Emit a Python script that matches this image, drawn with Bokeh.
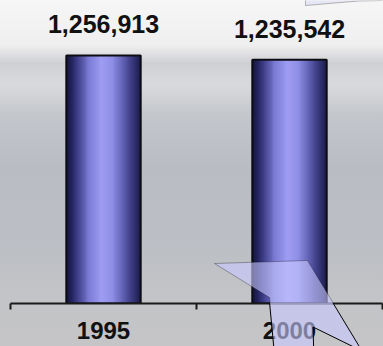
import numpy as np
from urllib.parse import quote
from bokeh.plotting import figure
from bokeh.models import Range1d, FixedTicker, PolyAnnotation, ColumnDataSource, InlineStyleSheet
from bokeh.core.properties import value
from bokeh.embed import file_html
from bokeh.resources import INLINE

# ---- data ----
years = ["1995", "2000"]
counts = [1256913, 1235542]
count_labels = ["{:,}".format(v) for v in counts]

bar_width = 0.40
xs = [i + 0.5 for i in range(len(years))]

p = figure(width=383, height=346, output_backend="svg", toolbar_location=None,
           x_range=Range1d(0, len(years)), y_range=Range1d(0, 1535600),
           min_border_left=10, min_border_right=1, min_border_top=0, min_border_bottom=43,
           y_axis_location=None)
p.border_fill_color = None
p.background_fill_color = None
p.outline_line_color = None
p.grid.visible = False
p.styles = {"background-image": "linear-gradient(to bottom, #f6f6f6 0px, #efefef 45px, #cfd0d3 63px, #d9dadd 85px, #c3c6cb 115px, #b9bdc3 170px, #bcbfc4 250px, #c3c4c7 300px, #c5c5c7 346px)"}

# bar gradient (horizontal)
stops = [(0.0, (22, 22, 64)), (0.12, (52, 52, 124)), (0.30, (124, 124, 214)),
         (0.47, (160, 158, 244)), (0.62, (142, 142, 230)), (0.78, (90, 90, 172)),
         (0.92, (48, 48, 112)), (1.0, (26, 26, 66))]
N = 80
pos = np.linspace(0, 1, N)
sp = [s[0] for s in stops]
rgb = np.zeros((1, N, 4), dtype=np.uint8)
for c in range(3):
    rgb[0, :, c] = np.interp(pos, sp, [s[1][c] for s in stops]).astype(np.uint8)
rgb[0, :, 3] = 255
img = rgb.view(dtype=np.uint32).reshape((1, N))

p.image_rgba(image=[img for _ in years], x=[x - bar_width / 2 for x in xs], y=[0 for _ in years],
             dw=[bar_width for _ in years], dh=counts)
p.vbar(x=xs, top=counts, width=bar_width, fill_color=None, line_color="#0c0c14", line_width=2)

src = ColumnDataSource(dict(x=xs, y=counts, t=count_labels))
p.text(x="x", y="y", text="t", source=src, y_offset=-31, text_align="center",
       text_baseline="alphabetic", text_font=value("Liberation Sans"), text_font_style="bold",
       text_font_size="25px", text_color="#111111")

ax = p.xaxis[0]
ax.ticker = FixedTicker(ticks=xs, minor_ticks=[0, 1, 2])
ax.major_label_overrides = {x: y for x, y in zip(xs, years)}
ax.major_tick_out = 0
ax.major_tick_in = 0
ax.minor_tick_out = 6
ax.minor_tick_in = 0
ax.minor_tick_line_color = "#1a1a1a"
ax.minor_tick_line_width = 2
ax.axis_line_color = "#1a1a1a"
ax.axis_line_width = 2
ax.major_label_standoff = 12
ax.major_label_text_font = "Liberation Sans"
ax.major_label_text_font_style = "bold"
ax.major_label_text_font_size = "24px"
ax.major_label_text_color = "#111111"

# decorative callout shapes (part inside the plot frame)
bolt = PolyAnnotation(xs=[214, 307, 362, 313, 314, 275, 269], ys=[263, 260, 351, 327, 360, 360, 297],
                      xs_units="canvas", ys_units="canvas", fill_color="#c8c8ff", fill_alpha=0.6,
                      line_color="#000000", line_width=1, level="overlay")
box = PolyAnnotation(xs=[305, 383, 383, 358, 305], ys=[-5, -5, 0, 0.5, 5],
                     xs_units="canvas", ys_units="canvas", fill_color="#e6e6f4", fill_alpha=1,
                     line_color="#222222", line_width=1, level="overlay")
p.add_layout(bolt)
p.add_layout(box)

# lower part of the callout, which lies below the plot frame
svg = ("<svg xmlns='http://www.w3.org/2000/svg' width='383' height='346'>"
       "<polygon points='269.6,303 333,303 362,351 313,327 314,360 275,360' fill='#c8c8ff' fill-opacity='0.6'/>"
       "<polyline points='269.6,303 275,360' fill='none' stroke='#000' stroke-width='1'/>"
       "<polyline points='333,303 362,351 313,327 314,360' fill='none' stroke='#000' stroke-width='1'/>"
       "</svg>")
css = (':host::after { content: ""; position: absolute; left: 0; top: 0; width: 383px; height: 346px; '
       'pointer-events: none; background: url("data:image/svg+xml;charset=utf-8,' + quote(svg) + '") no-repeat; }')
p.stylesheets = [InlineStyleSheet(css=css)]

open("out.html", "w").write(file_html(p, INLINE))
